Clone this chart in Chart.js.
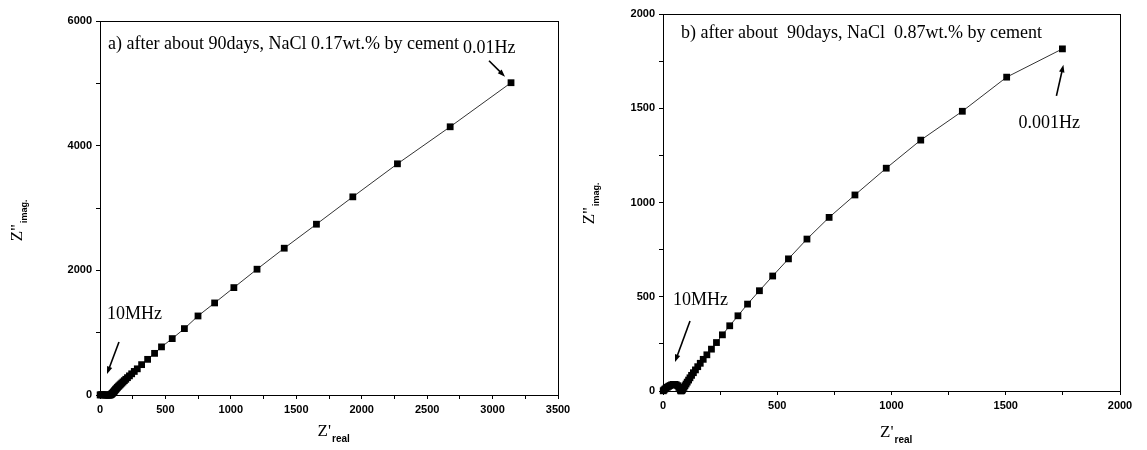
<!DOCTYPE html>
<html>
<head>
<meta charset="utf-8">
<script src="https://cdn.jsdelivr.net/npm/chart.js@4.4.0/dist/chart.umd.min.js"></script>
<style>
body{margin:0;background:#fff;}
#wrap{position:relative;width:1147px;height:450px;overflow:hidden;}
canvas{position:absolute;top:0;}
</style>
</head>
<body>
<div id="wrap">
	<canvas id="graficoA" width="575" height="450" style="left:0px"></canvas>
	<canvas id="graficoB" width="572" height="450" style="left:575px"></canvas>
</div>
<script>
// a) NaCl 0.17wt.% - from 10MHz (origin) down to 0.01Hz
var zRealA = [1, 6, 13, 21, 30, 39, 48, 57, 65, 72, 78, 82, 86, 90, 94, 98, 102, 106, 110, 114, 118, 123, 128, 133, 139, 145, 152, 159, 167, 176, 186, 197, 210, 225, 242, 262, 285, 318, 364, 417, 470, 552, 645, 749, 876, 1023, 1200, 1408, 1654, 1932, 2273, 2676, 3141];
var zImagA = [1, 3, 4, 4, 3, 1, -1, -3, -3, -2, 1, 5, 11, 18, 26, 35, 44, 54, 64, 75, 86, 97, 109, 121, 134, 147, 161, 176, 192, 210, 230, 252, 278, 307, 340, 378, 420, 487, 572, 668, 772, 905, 1065, 1268, 1477, 1723, 2018, 2355, 2740, 3179, 3709, 4303, 5010];

// b) NaCl 0.87wt.% - from 10MHz down to 0.001Hz
var zRealB = [1, 4, 8, 13, 19, 25, 31, 38, 45, 52, 58, 64, 69, 73, 76, 79, 82, 85, 88, 92, 96, 101, 106, 112, 118, 125, 133, 142, 152, 163, 176, 192, 212, 234, 260, 292, 328, 370, 422, 480, 549, 630, 727, 840, 977, 1128, 1310, 1504, 1748];
var zImagB = [1, 5, 10, 15, 20, 25, 29, 33, 35, 35, 33, 28, 20, 12, 4, 0, 2, 6, 12, 20, 28, 37, 47, 58, 70, 83, 97, 112, 129, 147, 168, 192, 222, 257, 298, 346, 399, 461, 532, 610, 701, 806, 921, 1040, 1182, 1331, 1484, 1665, 1815];

var xTicksA = [0, 500, 1000, 1500, 2000, 2500, 3000, 3500];
var yTicksA = [0, 2000, 4000, 6000];
var xTicksB = [0, 500, 1000, 1500, 2000];
var yTicksB = [0, 500, 1000, 1500, 2000];

var textoA = "a) after about 90days, NaCl 0.17wt.% by cement";
var textoB = "b) after about  90days, NaCl  0.87wt.% by cement";

function montarPontos(xs, ys){
	var pts = [];
	for (var i = 0; i < xs.length; i++) {
		pts.push({x: xs[i], y: ys[i]});
	}
	return pts;
}

function seta(ctx, x1, y1, x2, y2){
	var ang = Math.atan2(y2 - y1, x2 - x1);
	ctx.save();
	ctx.strokeStyle = "#000";
	ctx.fillStyle = "#000";
	ctx.lineWidth = 1.6;
	ctx.beginPath();
	ctx.moveTo(x1, y1);
	ctx.lineTo(x2 - 5 * Math.cos(ang), y2 - 5 * Math.sin(ang));
	ctx.stroke();
	ctx.beginPath();
	ctx.moveTo(x2, y2);
	ctx.lineTo(x2 - 8 * Math.cos(ang - 0.35), y2 - 8 * Math.sin(ang - 0.35));
	ctx.lineTo(x2 - 8 * Math.cos(ang + 0.35), y2 - 8 * Math.sin(ang + 0.35));
	ctx.closePath();
	ctx.fill();
	ctx.restore();
}

// frame, axis titles, labels and arrows
var anotacoes = {
	id: "anotacoes",
	afterDraw: function(chart){
		var c = chart.options.plugins.anotacoes;
		var ctx = chart.ctx;
		var a = chart.chartArea;
		var sx = chart.scales.x, sy = chart.scales.y;
		ctx.save();
		ctx.strokeStyle = "#000";
		ctx.lineWidth = 1;
		ctx.strokeRect(a.left + 0.5, a.top + 0.5, a.right - a.left, a.bottom - a.top);

		ctx.fillStyle = "#000";
		ctx.textBaseline = "middle";
		ctx.textAlign = "left";
		ctx.font = '18px "Liberation Serif"';
		ctx.fillText(c.texto, a.left + c.textoDx, a.top + c.textoDy);
		ctx.fillText("10MHz", a.left + c.mhzDx, a.bottom + c.mhzDy);

		// low frequency label next to last point
		var n = c.xs.length - 1;
		var px = sx.getPixelForValue(c.xs[n]);
		var py = sy.getPixelForValue(c.ys[n]);
		ctx.fillText(c.hz, px + c.hzDx, py + c.hzDy);
		seta(ctx, px + c.setaHz[0], py + c.setaHz[1], px + c.setaHz[2], py + c.setaHz[3]);

		var ox = sx.getPixelForValue(0), oy = sy.getPixelForValue(0);
		seta(ctx, ox + c.setaMhz[0], oy + c.setaMhz[1], ox + c.setaMhz[2], oy + c.setaMhz[3]);

		// x title Z'real
		var cx = (a.left + a.right) / 2;
		ctx.font = '17px "Liberation Serif"';
		ctx.textAlign = "right";
		ctx.fillText("Z'", cx + 2, c.tituloX);
		ctx.textAlign = "left";
		ctx.font = 'bold 10px "Liberation Sans"';
		ctx.fillText("real", cx + 3, c.tituloX + 7);

		// y title Z"imag.
		ctx.translate(c.tituloY[0], c.tituloY[1]);
		ctx.rotate(-Math.PI / 2);
		ctx.font = '17px "Liberation Serif"';
		ctx.textAlign = "right";
		ctx.fillText('Z"', -2, 0);
		ctx.textAlign = "left";
		ctx.font = 'bold 9px "Liberation Sans"';
		ctx.fillText("imag.", -1, 7);
		ctx.restore();
	}
};

function criarGrafico(id, xs, ys, xMax, yMax, xStep, yStep, xTicks, yTicks, yLarg, xAlt, padding, extras){
	var escala = function(max, step, lista){
		return {
			type: "linear",
			min: 0,
			max: max,
			border: {display: true, color: "#000", width: 1},
			grid: {drawOnChartArea: false, drawTicks: true, tickLength: 4, color: "#000"},
			ticks: {
				stepSize: step,
				autoSkip: false,
				maxRotation: 0,
				padding: 4,
				color: "#000",
				font: {family: "Liberation Sans", size: 11, weight: "bold"},
				callback: function(v){
					return lista.indexOf(v) >= 0 ? String(v) : "";
				}
			}
		};
	};
	var ex = escala(xMax, xStep, xTicks);
	ex.afterFit = function(s){ s.height = xAlt; };
	var ey = escala(yMax, yStep, yTicks);
	ey.afterFit = function(s){ s.width = yLarg; };

	extras.xs = xs;
	extras.ys = ys;

	return new Chart(document.getElementById(id), {
		type: "scatter",
		data: {
			datasets: [{
				data: montarPontos(xs, ys),
				showLine: true,
				borderColor: "#333",
				borderWidth: 1,
				pointStyle: "rect",
				pointRadius: 4.8,
				pointBackgroundColor: "#000",
				pointBorderColor: "#000",
				pointBorderWidth: 0,
				clip: false
			}]
		},
		options: {
			responsive: false,
			animation: false,
			devicePixelRatio: 1,
			layout: {padding: padding},
			plugins: {
				legend: {display: false},
				tooltip: {enabled: false},
				anotacoes: extras
			},
			scales: {x: ex, y: ey}
		},
		plugins: [anotacoes]
	});
}

criarGrafico("graficoA", zRealA, zImagA, 3500, 6000, 250, 1000, xTicksA, yTicksA, 100, 55,
	{top: 21, right: 17, left: 0, bottom: 0},
	{
		texto: textoA, textoDx: 8, textoDy: 23,
		mhzDx: 7, mhzDy: -81,
		hz: "0.01Hz", hzDx: -48, hzDy: -34,
		setaHz: [-22, -22, -6, -6],
		setaMhz: [19, -53, 7, -21],
		tituloX: 432, tituloY: [18, 222]
	});

criarGrafico("graficoB", zRealB, zImagB, 2000, 2000, 250, 250, xTicksB, yTicksB, 88, 59,
	{top: 14, right: 27, left: 0, bottom: 0},
	{
		texto: textoB, textoDx: 18, textoDy: 19,
		mhzDx: 10, mhzDy: -91,
		hz: "0.001Hz", hzDx: -44, hzDy: 74,
		setaHz: [-6, 47, 1, 16],
		setaMhz: [27, -70, 12, -29],
		tituloX: 433, tituloY: [15, 205]
	});
</script>
</body>
</html>
